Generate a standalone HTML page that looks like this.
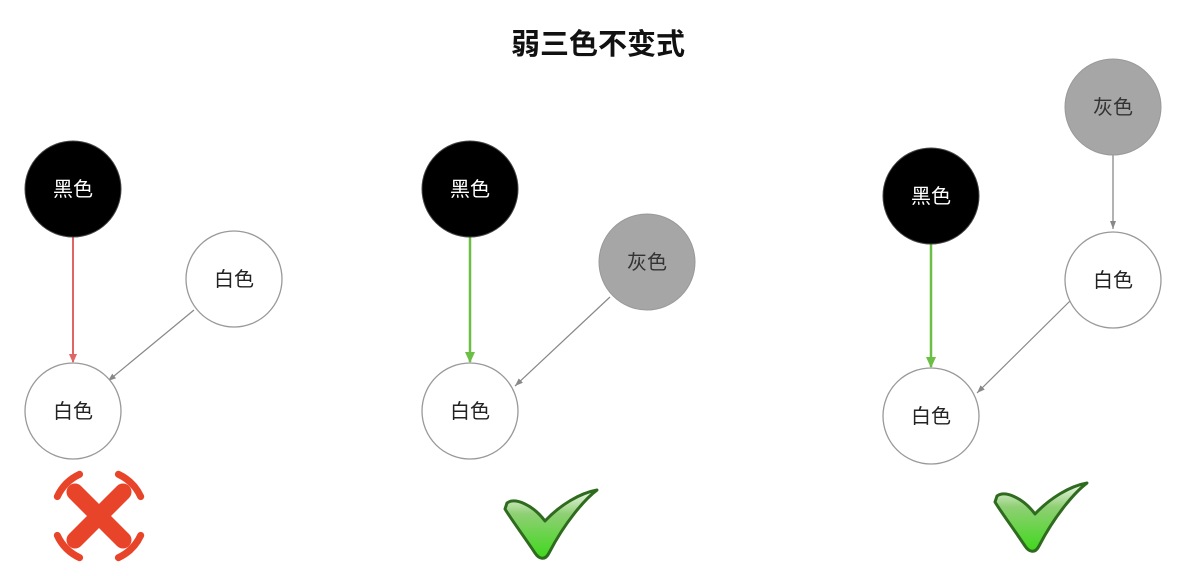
<!DOCTYPE html>
<html><head><meta charset="utf-8"><style>
body{margin:0;background:#fff;}
svg{display:block;}
text{font-family:"Liberation Sans","Noto Sans CJK SC",sans-serif;}
</style></head><body>
<svg width="1196" height="576" viewBox="0 0 1196 576" xmlns="http://www.w3.org/2000/svg">
<defs>
<marker id="ar" markerWidth="10" markerHeight="10" refX="8" refY="5" orient="auto" markerUnits="userSpaceOnUse"><path d="M0,1 L9,5 L0,9 z" fill="#e06666"/></marker>
<marker id="ag" markerWidth="12" markerHeight="12" refX="10" refY="6" orient="auto" markerUnits="userSpaceOnUse"><path d="M0,1 L11,6 L0,11 z" fill="#6cbf45"/></marker>
<marker id="ay" markerWidth="9" markerHeight="9" refX="8" refY="4" orient="auto" markerUnits="userSpaceOnUse"><path d="M0,1 L8,4 L0,7 z" fill="#888"/></marker>
<linearGradient id="cg" x1="0" y1="0" x2="0" y2="1">
<stop offset="0" stop-color="#f4f8f2"/><stop offset="0.35" stop-color="#8fcf74"/><stop offset="1" stop-color="#3fd81c"/></linearGradient>
<g id="chk"><path d="M2,-4 C10,-10 28,-2 40,14 C55,-2 75,-14 92,-17 C80,-8 60,15 44,46 C40,54 34,52 30,46 C18,28 6,12 0,2 Z" fill="url(#cg)" stroke="#2f6b1e" stroke-width="3" stroke-linejoin="round"/></g>
</defs>
<text x="598" y="54" font-size="29" font-weight="bold" text-anchor="middle" fill="#111">弱三色不变式</text>

<!-- group 1 -->
<line x1="73" y1="237" x2="73" y2="362" stroke="#e06666" stroke-width="2" marker-end="url(#ar)"/>
<line x1="194" y1="310" x2="108" y2="381" stroke="#888" stroke-width="1.2" marker-end="url(#ay)"/>
<circle cx="73" cy="189" r="48" fill="#000" stroke="#444"/>
<circle cx="234" cy="279" r="48" fill="#fff" stroke="#999" stroke-width="1.3"/>
<circle cx="73" cy="411" r="48" fill="#fff" stroke="#999" stroke-width="1.3"/>
<text x="73" y="196" font-size="20" text-anchor="middle" fill="#fff">黑色</text>
<text x="234" y="286" font-size="20" text-anchor="middle" fill="#222">白色</text>
<text x="73" y="418" font-size="20" text-anchor="middle" fill="#222">白色</text>

<!-- group 2 -->
<line x1="470" y1="237" x2="470" y2="362" stroke="#6cbf45" stroke-width="2.5" marker-end="url(#ag)"/>
<line x1="610" y1="297" x2="515" y2="386" stroke="#888" stroke-width="1.2" marker-end="url(#ay)"/>
<circle cx="470" cy="189" r="48" fill="#000" stroke="#444"/>
<circle cx="647" cy="262" r="48" fill="#a6a6a6" stroke="#999"/>
<circle cx="470" cy="411" r="48" fill="#fff" stroke="#999" stroke-width="1.3"/>
<text x="470" y="196" font-size="20" text-anchor="middle" fill="#fff">黑色</text>
<text x="647" y="269" font-size="20" text-anchor="middle" fill="#333">灰色</text>
<text x="470" y="418" font-size="20" text-anchor="middle" fill="#222">白色</text>

<!-- group 3 -->
<line x1="1113" y1="155" x2="1113" y2="229" stroke="#888" stroke-width="1.3" marker-end="url(#ay)"/>
<line x1="931" y1="244" x2="931" y2="367" stroke="#6cbf45" stroke-width="2.5" marker-end="url(#ag)"/>
<line x1="1071" y1="300" x2="977" y2="393" stroke="#888" stroke-width="1.2" marker-end="url(#ay)"/>
<circle cx="1113" cy="107" r="48" fill="#a6a6a6" stroke="#999"/>
<circle cx="931" cy="196" r="48" fill="#000" stroke="#444"/>
<circle cx="1113" cy="280" r="48" fill="#fff" stroke="#999" stroke-width="1.3"/>
<circle cx="931" cy="416" r="48" fill="#fff" stroke="#999" stroke-width="1.3"/>
<text x="1113" y="114" font-size="20" text-anchor="middle" fill="#333">灰色</text>
<text x="931" y="203" font-size="20" text-anchor="middle" fill="#fff">黑色</text>
<text x="1113" y="287" font-size="20" text-anchor="middle" fill="#222">白色</text>
<text x="931" y="423" font-size="20" text-anchor="middle" fill="#222">白色</text>

<!-- X icon -->
<g stroke="#e8442a" fill="none" stroke-linecap="round">
<line x1="75" y1="492" x2="123" y2="540" stroke-width="17"/>
<line x1="123" y1="492" x2="75" y2="540" stroke-width="17"/>
<g stroke-width="7">
<path d="M57.3,496.6 A46,46 0 0 1 79.6,474.3"/>
<path d="M118.4,474.3 A46,46 0 0 1 140.7,496.6"/>
<path d="M140.7,535.4 A46,46 0 0 1 118.4,557.7"/>
<path d="M79.6,557.7 A46,46 0 0 1 57.3,535.4"/>
</g></g>

<use href="#chk" transform="translate(505,507)"/>
<use href="#chk" transform="translate(995,500)"/>
</svg>
</body></html>
